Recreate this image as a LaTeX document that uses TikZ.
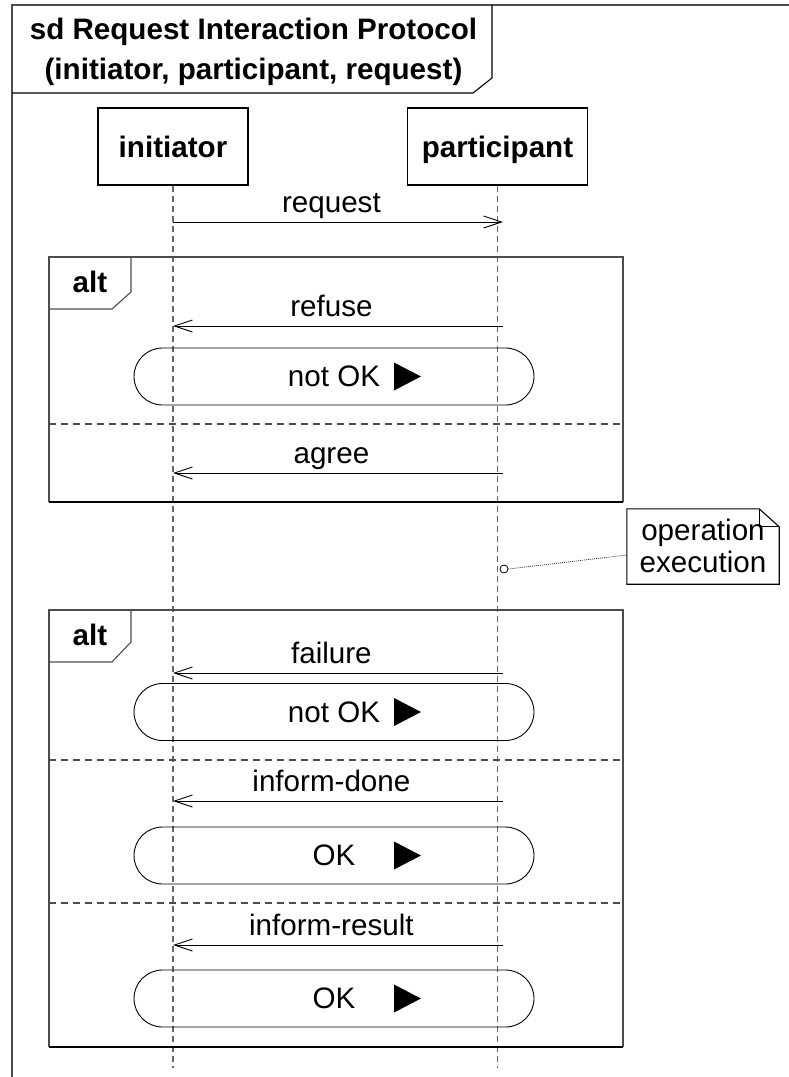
\documentclass[tikz,border=0pt]{standalone}
\usepackage{fontspec}
\setmainfont{Liberation Sans}
\usetikzlibrary{arrows.meta}

\begin{document}
\begin{tikzpicture}[x=1pt, y=-1pt,
  font=\fontsize{29.6}{40}\selectfont,
  frameline/.style={draw=black!70, line width=1.3pt},
  boxline/.style={draw=black, line width=1.1pt},
  head/.style={boxline, minimum height=77pt, inner sep=0pt,
    text height=21pt, text depth=0pt, font=\fontsize{29.6}{34}\selectfont\bfseries},
  lifeline/.style={draw=black!60, line width=1.1pt, dash pattern=on 6pt off 4pt},
  fragment/.style={draw=black!70, line width=1.1pt},
  fragbottom/.style={draw=black, line width=2.2pt},
  divider/.style={draw=black!70, line width=1.1pt, dash pattern=on 7pt off 5pt},
  msg/.style={draw=black, line width=0.9pt, -{Straight Barb[length=18pt, width=12pt]}},
  lbl/.style={anchor=base, yshift=10pt, inner sep=0pt},
  exitbox/.style={draw=black, line width=0.9pt, minimum width=400pt,
    minimum height=57pt, rounded corners=28.5pt, inner sep=0pt,
    text height=20pt, text depth=0pt},
  altlbl/.style={anchor=base, inner sep=0pt, font=\fontsize{29.6}{34}\selectfont\bfseries}
]
\useasboundingbox (0,0) rectangle (789,1077);

% outer sequence-diagram frame and its title tab
\draw[frameline] (12,1077) -- (12,5) -- (789,5);
\draw[boxline] (12,93) -- (473,93) -- (492,78) -- (492,5);
\node[align=center, inner sep=0pt, font=\fontsize{29.6}{40}\selectfont\bfseries]
  (title) at (253.5,51.5) {sd Request Interaction Protocol\\(initiator, participant, request)};

% lifeline heads
\node[head, minimum width=150pt] (ini) at (173,146.5) {initiator};
\node[head, minimum width=180pt] (par) at (497.5,146.5) {participant};
\coordinate (iniEnd) at (173,1068);
\coordinate (parEnd) at (497.5,1068);
\draw[lifeline] (ini.south) -- (iniEnd);
\draw[lifeline] (par.south) -- (parEnd);

% message end points on the lifelines
\coordinate (reqA) at (173,222);  \coordinate (reqB) at (503,222);
\coordinate (refA) at (503,326);  \coordinate (refB) at (173,326);
\coordinate (agrA) at (503,473);  \coordinate (agrB) at (173,473);
\coordinate (faiA) at (503,673);  \coordinate (faiB) at (173,673);
\coordinate (donA) at (503,801);  \coordinate (donB) at (173,801);
\coordinate (resA) at (503,945);  \coordinate (resB) at (173,945);

\draw[msg] (reqA) -- node[lbl, pos=0.48] {request} (reqB);

% first alt fragment: refuse / agree
\draw[fragment] (49,502) -- (49,257) -- (623,257) -- (623,502);
\draw[fragbottom] (49,502) -- (623,502);
\draw[fragment] (49,309) -- (112,309) -- (131,292) -- (131,257);
\node[altlbl] (alt1) at (90,292) {alt};
\draw[msg] (refA) -- node[lbl, pos=0.52] {refuse} (refB);
\node[exitbox] (x1) at (334,376.5) {not OK};
\fill (394,362.5) -- (421,376.5) -- (394,390.5) -- cycle;
\draw[divider] (49,424) -- (623,424);
\draw[msg] (agrA) -- node[lbl, pos=0.52] {agree} (agrB);

% note on the participant lifeline
\node[minimum width=152pt, minimum height=75pt, inner sep=0pt] (nt) at (703,546.5) {};
\draw[boxline, fill=white] (nt.north west) -- ([xshift=-20pt]nt.north east)
  -- ([yshift=-18pt]nt.north east) -- (nt.south east) -- (nt.south west) -- cycle;
\draw[boxline] ([xshift=-20pt]nt.north east) -- ([xshift=-20pt,yshift=-18pt]nt.north east)
  -- ([yshift=-18pt]nt.north east);
\node[align=center, inner sep=0pt, font=\fontsize{29.6}{32}\selectfont] (ntxt) at (703,545.5) {operation\\execution};
\node[circle, draw=black, line width=0.8pt, fill=white, minimum size=8pt, inner sep=0pt] (oc) at (504,569) {};
\draw[draw=black!80, line width=0.8pt, dash pattern=on 1pt off 1pt] (oc.east) -- ([yshift=-8.5pt]nt.west);

% second alt fragment: failure / inform-done / inform-result
\draw[fragment] (49,1047) -- (49,610) -- (623,610) -- (623,1047);
\draw[fragbottom] (49,1047) -- (623,1047);
\draw[fragment] (49,662) -- (112,662) -- (131,642) -- (131,610);
\node[altlbl] (alt2) at (90,645) {alt};
\draw[msg] (faiA) -- node[lbl, pos=0.52] {failure} (faiB);
\node[exitbox] (x2) at (334,712) {not OK};
\fill (394,698) -- (421,712) -- (394,726) -- cycle;
\draw[divider] (49,760) -- (623,760);
\draw[msg] (donA) -- node[lbl, pos=0.52] {inform-done} (donB);
\node[exitbox] (x3) at (334,855.5) {OK};
\fill (394,841.5) -- (421,855.5) -- (394,869.5) -- cycle;
\draw[divider] (49,903) -- (623,903);
\draw[msg] (resA) -- node[lbl, pos=0.52] {inform-result} (resB);
\node[exitbox] (x4) at (334,998.5) {OK};
\fill (394,984.5) -- (421,998.5) -- (394,1012.5) -- cycle;
\end{tikzpicture}
\end{document}
